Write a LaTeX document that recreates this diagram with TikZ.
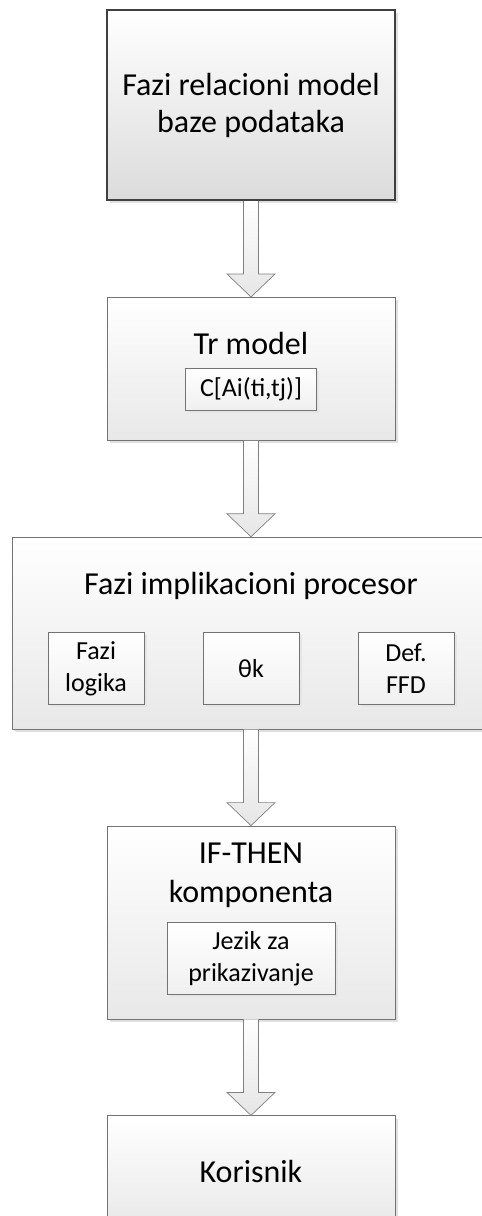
\documentclass[tikz,border=0pt]{standalone}
\usepackage{fontspec}
\setmainfont{Carlito}
\usetikzlibrary{positioning,shadows,calc}

\begin{document}
\begin{tikzpicture}[x=1pt,y=1pt,node distance=96pt,
        box/.style={rectangle,draw=black!55,line width=0.8pt,top color=white,bottom color=black!9,
            drop shadow={shadow xshift=3pt,shadow yshift=-3pt,fill=black!12,opacity=1},
            minimum width=288pt,align=center,font=\fontsize{32}{37}\selectfont},
        inbox/.style={rectangle,draw=black!55,line width=0.7pt,top color=white,bottom color=black!6,
            drop shadow={shadow xshift=2.5pt,shadow yshift=-2.5pt,fill=black!10,opacity=1},
            inner sep=0pt,align=center,font=\fontsize{26}{32}\selectfont},
        title/.style={align=center,font=\fontsize{32}{39}\selectfont},
        fat/.style={draw=black!50,line width=0.7pt,top color=white,bottom color=black!10,
            to path={let \p1=(\tikztostart), \p2=(\tikztotarget) in
                (\x1-7.5pt,\y1) -- (\x1-7.5pt,\y2+23pt) -- (\x1-24pt,\y2+23pt) -- (\x2,\y2)
                -- (\x1+24pt,\y2+23pt) -- (\x1+7.5pt,\y2+23pt) -- (\x1+7.5pt,\y1)}}]

  \useasboundingbox (0,0) rectangle (482,-1216);

  \node[box,draw=black!75,line width=2pt,bottom color=black!14,minimum height=190pt] (fazi_model) at (251,-105)
        {Fazi relacioni model\\baze podataka};
  \node[box,minimum height=143pt] (tr_model) [below=of fazi_model] {};
  \node[box,minimum width=478pt,minimum height=192pt] (fi_proc) [below=of tr_model] {};
  \node[box,minimum height=193pt] (if_then) [below=of fi_proc] {};
  \node[box,minimum height=112pt] (korisnik) [below=of if_then] {Korisnik};

  % naslovi
  \node[title] (tr_title) at ([yshift=-46pt]tr_model.north) {Tr model};
  \node[title] (fi_title) at ([yshift=-49pt]fi_proc.north) {Fazi implikacioni procesor};
  \node[title] (if_title) at ([yshift=-50pt]if_then.north) {IF-THEN\\komponenta};

  % unutrasnji blokovi
  \node[inbox,minimum width=131pt,minimum height=42pt] (c_ai) at ([yshift=-92pt]tr_model.north) {C[Ai(ti,tj)]};
  \node[inbox,minimum width=96pt,minimum height=72pt] (f_log) at ([xshift=-155pt,yshift=-132pt]fi_proc.north) {Fazi\\logika};
  \node[inbox,minimum width=96pt,minimum height=72pt] (theta) at ([yshift=-132pt]fi_proc.north) {θk};
  \node[inbox,minimum width=96pt,minimum height=72pt] (d_ffd) at ([xshift=155pt,yshift=-132pt]fi_proc.north) {Def.\\FFD};
  \node[inbox,minimum width=168pt,minimum height=72pt] (jezik) at ([yshift=-133pt]if_then.north) {Jezik za\\prikazivanje};

  \draw[fat] (fazi_model.south) to (tr_model.north);
  \draw[fat] (tr_model.south) to (fi_proc.north);
  \draw[fat] (fi_proc.south) to (if_then.north);
  \draw[fat] (if_then.south) to (korisnik.north);

\end{tikzpicture}
\end{document}
